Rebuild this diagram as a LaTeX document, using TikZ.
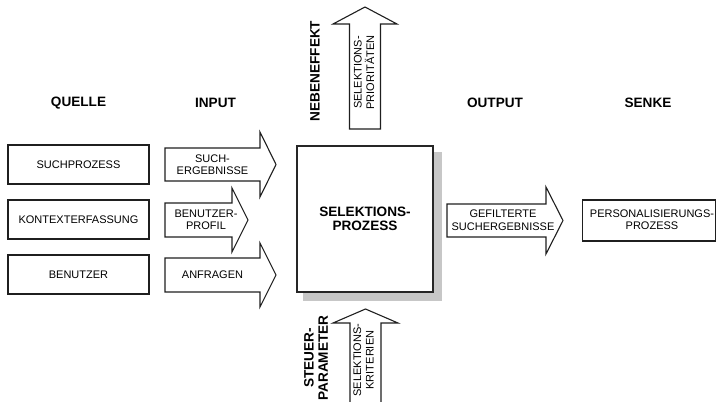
\documentclass[tikz,border=0pt]{standalone}
\usepackage{fontspec}
\setmainfont{Liberation Sans}
\begin{document}
\begin{tikzpicture}[x=1pt,y=-1pt,
  ink/.style={draw=black!88},
  lbl/.style={inner sep=0pt,align=center,font=\fontsize{11}{12.5}\selectfont},
  hd/.style={inner sep=0pt,align=center,font=\bfseries\fontsize{13.6}{14}\selectfont},
  srcbox/.style={ink,line width=1.1pt,fill=white},
  blockarrow/.style={ink,line width=1.1pt,fill=white,line join=miter},
  corebox/.style={draw=black!85,line width=2.6pt,fill=white,minimum width=136pt,minimum height=146pt,inner sep=0pt}
]
\useasboundingbox (0,0) rectangle (716,402);
\begin{scope}
\clip (0,0) rectangle (716,402);

% column headings
\node[hd] (hQuelle) at (78.5,103) {QUELLE};
\node[hd] (hInput)  at (215.5,103) {INPUT};
\node[hd] (hOutput) at (495,103) {OUTPUT};
\node[hd] (hSenke)  at (648,103) {SENKE};

% sources
\draw[srcbox] (8,145) rectangle (149,184);
\node[lbl] (qSuch) at (78.5,164.5) {SUCHPROZESS};
\draw[srcbox] (8,200) rectangle (149,239);
\node[lbl] (qKontext) at (78.5,219.5) {KONTEXTERFASSUNG};
\draw[srcbox] (8,255) rectangle (149,294);
\node[lbl] (qBenutzer) at (78.5,274.5) {BENUTZER};

% input arrows
\draw[blockarrow] (165,148) -- (260,148) -- (260,132) -- (276,164.5)
  -- (260,197) -- (260,181) -- (165,181) -- cycle;
\node[lbl] (iSuch) at (212.5,164.5) {SUCH-\\ERGEBNISSE};
\draw[blockarrow] (165,203) -- (232,203) -- (232,188) -- (248,220)
  -- (232,252) -- (232,237) -- (165,237) -- cycle;
\node[lbl] (iProfil) at (206,220) {BENUTZER-\\PROFIL};
\draw[blockarrow] (165,258) -- (260,258) -- (260,243) -- (276,275)
  -- (260,307) -- (260,292) -- (165,292) -- cycle;
\node[lbl] (iAnfragen) at (212.5,275) {ANFRAGEN};

% selection process with its shadow
\fill[black!22] (303,152) rectangle (442,301);
\node[corebox] (core) at (365,219) {};
\node[hd] (coreLbl) at (core.center) {SELEKTIONS-\\PROZESS};

% side effect arrow (upwards)
\draw[blockarrow] (349.5,129) -- (349.5,24) -- (333,24) -- (365,7)
  -- (397,24) -- (380.5,24) -- (380.5,129) -- cycle;
\node[lbl,rotate=90] (sPrio) at (364,72.5) {SELEKTIONS-\\PRIORITÄTEN};
\node[hd,rotate=90] (hNeben) at (315,71) {NEBENEFFEKT};

% control parameter arrow (upwards into the process)
\draw[blockarrow] (350,420) -- (350,323) -- (333,323) -- (365.5,309)
  -- (398,323) -- (381,323) -- (381,420) -- cycle;
\node[lbl,rotate=90] (sKrit) at (363.5,360) {SELEKTIONS-\\KRITERIEN};
\node[hd,rotate=90] (hSteuer) at (316,358) {STEUER-\\PARAMETER};

% output arrow
\draw[blockarrow] (447,204) -- (546,204) -- (546,187) -- (563,220.5)
  -- (546,254) -- (546,237) -- (447,237) -- cycle;
\node[lbl] (oGefiltert) at (503,220) {GEFILTERTE\\SUCHERGEBNISSE};

% sink
\draw[srcbox] (582.5,200) rectangle (715.3,241);
\node[lbl] (sPers) at (652,219.5) {PERSONALISIERUNGS-\\PROZESS};
\end{scope}
\end{tikzpicture}
\end{document}
